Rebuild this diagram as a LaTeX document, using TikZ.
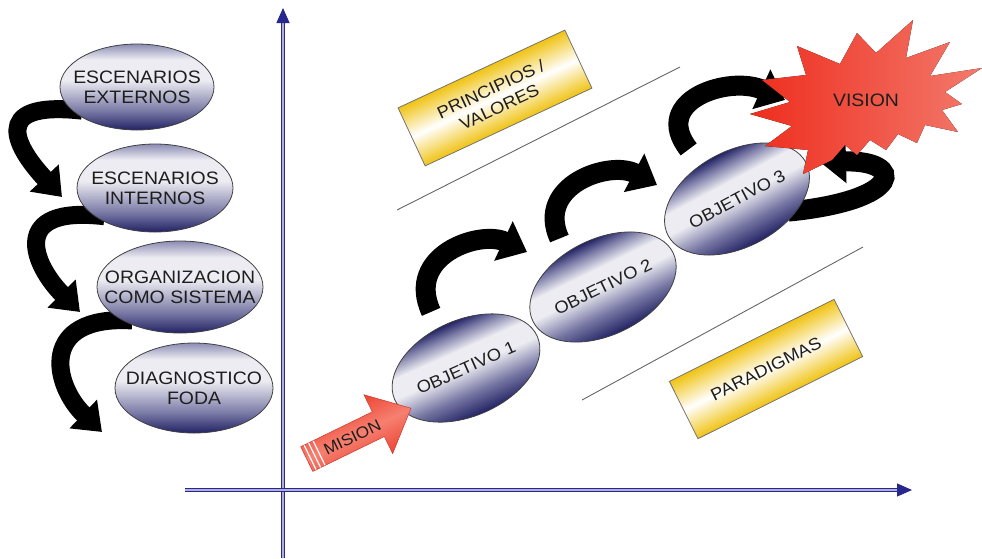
\documentclass[tikz,border=0pt]{standalone}
\usepackage{fontspec}
\newfontfamily\lbl[FakeStretch=1.08]{Liberation Sans}
\usetikzlibrary{shapes.geometric,shapes.arrows,arrows.meta,calc}

\definecolor{ovdark}{RGB}{34,34,100}
\definecolor{ovmid}{RGB}{120,120,165}
\definecolor{ovlight}{RGB}{236,236,242}
\definecolor{ovtop}{RGB}{140,140,180}
\definecolor{axisblue}{RGB}{40,40,140}
\definecolor{axislight}{RGB}{175,175,220}
\definecolor{gold}{RGB}{240,195,20}
\definecolor{misred}{RGB}{236,68,52}
\definecolor{mislight}{RGB}{246,128,112}
\definecolor{vred}{RGB}{238,45,30}
\definecolor{vsalmon}{RGB}{242,122,108}
\definecolor{inkgray}{RGB}{30,30,30}

\pgfdeclareverticalshading{ovalshade}{100bp}{color(0bp)=(ovdark); color(25bp)=(ovdark); color(36bp)=(ovmid); color(54bp)=(ovlight); color(66bp)=(ovlight); color(75bp)=(ovtop); color(100bp)=(ovtop)}
\pgfdeclareverticalshading{goalshade}{100bp}{color(0bp)=(ovdark); color(25bp)=(ovdark); color(37bp)=(ovmid); color(50bp)=(ovlight); color(60bp)=(ovlight); color(69bp)=(ovmid); color(75bp)=(ovdark); color(100bp)=(ovdark)}
\pgfdeclareverticalshading{goldshade}{100bp}{color(0bp)=(gold); color(25bp)=(gold); color(50bp)=(white); color(75bp)=(gold); color(100bp)=(gold)}

\pgfdeclarelayer{back}
\pgfsetlayers{back,main}

\tikzset{
  oval/.style={ellipse, draw=black!75, line width=0.8pt, shade, shading=ovalshade,
    inner xsep=-30pt, inner ysep=0pt, align=center, text=inkgray,
    font=\lbl\fontsize{18}{20}\selectfont},
  goal/.style={ellipse, draw=black!75, line width=0.8pt, inner sep=0pt,
    minimum width=156pt, minimum height=96pt, rotate=#1, text=inkgray,
    font=\lbl\fontsize{17}{20}\selectfont},
  goalfill/.style={shading=goalshade},
  tag/.style={rectangle, draw=black!55, line width=0.8pt, shade, shading=goldshade,
    minimum width=184pt, minimum height=64pt, inner sep=0pt, align=center, text=inkgray,
    font=\lbl\fontsize{17}{20}\selectfont},
  curlarrow/.style={line width=18pt, black, -{Triangle[width=38pt,length=26pt]}},
  hoparrow/.style={line width=20pt, black, -{Triangle[width=42pt,length=26pt]}},
  axisline/.style={draw=axisblue, line width=1.1pt, double=axislight, double distance=1.5pt,
    -{Triangle[width=13pt,length=15pt,fill=axisblue]}},
  guide/.style={draw=black!60, line width=0.9pt},
}

\begin{document}
\begin{tikzpicture}[x=1pt,y=-1pt]
\useasboundingbox (0,0) rectangle (982,558);

% axes and guide lines
\coordinate (ybot) at (283,558);
\coordinate (ytop) at (283,8);
\coordinate (xleft) at (185,490);
\coordinate (xright) at (912,490);
\coordinate (ua) at (397,210); \coordinate (ub) at (680,67);
\coordinate (la) at (582,400); \coordinate (lb) at (863,247);

% arrow ends
\coordinate (t1) at (62,197);
\coordinate (t2) at (80,312);
\coordinate (t3) at (102,432);
\coordinate (tA) at (527,252);
\coordinate (tB) at (657,185);
\coordinate (tC) at (785,100);
\coordinate (tD) at (820,162);

% diagnosis chain
\node[oval, minimum width=154pt, minimum height=86pt] (e1) at (137,87) {ESCENARIOS\\EXTERNOS};
\node[oval, minimum width=156pt, minimum height=88pt] (e2) at (155,188) {ESCENARIOS\\INTERNOS};
\node[oval, minimum width=166pt, minimum height=92pt] (e3) at (180,287) {ORGANIZACION\\COMO SISTEMA};
\node[oval, minimum width=158pt, minimum height=90pt] (e4) at (194,388) {DIAGNOSTICO\\FODA};

% labels of the corridor (tilted as a whole)
\begin{scope}[transform canvas={shift={(495,98)}, rotate=25}]
  \node[tag] (pv) at (0,0) {PRINCIPIOS /\\VALORES};
\end{scope}
\begin{scope}[transform canvas={shift={(766,369)}, rotate=26.5}]
  \node[tag] (pd) at (0,0) {PARADIGMAS};
\end{scope}

% objectives: shaded bodies, then outlined nodes carrying the text
\begin{scope}[transform canvas={shift={(466,368)}, rotate=24}]
  \shade[goalfill] (0,0) ellipse [x radius=78, y radius=48];
\end{scope}
\begin{scope}[transform canvas={shift={(603,287)}, rotate=26}]
  \shade[goalfill] (0,0) ellipse [x radius=78, y radius=48];
\end{scope}
\begin{scope}[transform canvas={shift={(737,199)}, rotate=28}]
  \shade[goalfill] (0,0) ellipse [x radius=78, y radius=48];
\end{scope}
\node[goal=24] (o1) at (466,368) {OBJETIVO 1};
\node[goal=26] (o2) at (603,287) {OBJETIVO 2};
\node[goal=28] (o3) at (737,199) {OBJETIVO 3};

% mission arrow
\begin{scope}[transform canvas={shift={(352,437)}, rotate=26}]
  \node[single arrow, shade, top color=misred, bottom color=misred,
    middle color=mislight, draw=misred!85!black, line width=0.5pt, minimum height=116pt,
    single arrow head extend=19pt, single arrow tip angle=84,
    text height=12pt, text depth=0pt, inner ysep=7.5pt, inner xsep=4pt,
    text=inkgray, font=\lbl\fontsize{16}{18}\selectfont] (mis) at (0,0) {MISION};
  \foreach \d in {4,9,14}
    \draw[white, line width=1.2pt] ([xshift=\d pt, yshift=-13.5pt]mis.tail) -- ([xshift=\d pt, yshift=13.5pt]mis.tail);
\end{scope}

% vision burst
\fill[left color=vred, right color=vsalmon]
  (913,20) -- (906,58) -- (950,42) -- (930,76) -- (982,68) -- (945,92) -- (962,104)
  -- (942,110) -- (958,132) -- (925,125) -- (917,143) -- (898,134) -- (886,150)
  -- (870,140) -- (857,155) -- (845,145) -- (832,160) -- (803,174) -- (808,150)
  -- (765,146) -- (792,126) -- (750,114) -- (790,102) -- (762,80) -- (806,75)
  -- (797,46) -- (840,64) -- (857,33) -- (876,53) -- cycle;
\node[text=inkgray, font=\lbl\fontsize{18}{20}\selectfont] (vis) at (866,100) {VISION};

\begin{pgfonlayer}{back}
  \draw[axisline] (ybot) -- (ytop);
  \draw[axisline] (xleft) -- (xright);
  \draw[guide] (ua) -- (ub);
  \draw[guide] (la) -- (lb);
  \draw[curlarrow] ([xshift=10pt]e1.200) .. controls (-14,100) and (18,150) .. (t1);
  \draw[curlarrow] ([xshift=10pt]e2.205) .. controls (8,205) and (33,265) .. (t2);
  \draw[curlarrow] ([xshift=10pt]e3.210) .. controls (38,315) and (53,385) .. (t3);
  \draw[hoparrow] ([yshift=20pt]o1.110) .. controls (405,255) and (480,230) .. (tA);
  \draw[hoparrow] ([yshift=19pt]o2.120) .. controls (535,185) and (610,160) .. (tB);
  \draw[hoparrow] ([yshift=25pt]o3.125) .. controls (650,100) and (730,75) .. (tC);
  \draw[hoparrow] ([xshift=-8pt]o3.-40) .. controls (905,200) and (905,160) .. (tD);
\end{pgfonlayer}
\end{tikzpicture}
\end{document}
